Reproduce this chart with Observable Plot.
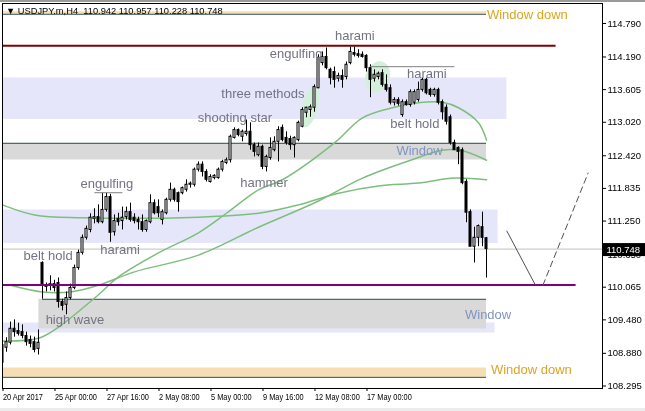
<!DOCTYPE html>
<html><head><meta charset="utf-8">
<script src="https://cdn.jsdelivr.net/npm/d3@7"></script>
<script src="https://cdn.jsdelivr.net/npm/@observablehq/plot@0.6"></script>
<style>body{margin:0;background:#fff;} svg{display:block}</style>
</head><body><div id="chart"></div>
<script>
// ---- data (USDJPY.m, H4) ----
const opens = [
109.03,108.98,109.07,109.32,109.28,109.26,109.19,109.12,109.08,108.96,
110.50,110.07,110.09,110.12,110.14,109.80,109.75,109.87,110.05,110.41,
110.68,110.95,111.09,111.29,111.32,111.23,111.45,111.68,111.05,111.29,
111.25,111.32,111.41,111.31,111.27,111.23,111.09,111.23,111.57,111.50,
111.27,111.39,111.63,111.81,111.75,111.75,111.81,111.90,111.90,112.17,
112.26,112.13,111.95,112.02,112.02,112.17,112.29,112.34,112.74,112.88,
112.76,112.81,112.85,112.61,112.43,112.58,112.22,112.38,112.52,112.67,
112.92,112.74,112.72,112.61,112.70,112.94,113.19,113.24,113.28,113.63,
114.08,114.19,113.96,113.92,113.80,113.85,113.83,114.08,114.26,114.24,
114.23,114.21,113.99,113.80,113.83,113.90,113.69,113.63,113.37,113.42,
113.15,113.38,113.33,113.37,113.42,113.60,113.78,113.60,113.51,113.60,
113.38,113.28,113.11,112.65,112.56,112.52,111.95,111.41,110.79,110.95,
111.14,110.942];
const highs = [
109.12,109.16,109.44,109.48,109.42,109.39,109.26,109.19,109.17,109.30,
110.52,110.14,110.27,110.19,110.23,109.85,109.98,110.12,110.46,110.73,
111.00,111.16,111.38,111.47,111.54,111.75,111.75,111.73,111.36,111.39,
111.50,111.50,111.57,111.38,111.32,111.36,111.27,111.72,111.63,111.63,
111.45,111.66,111.93,111.84,111.77,111.86,111.99,111.95,112.20,112.31,
112.31,112.17,112.08,112.08,112.20,112.34,112.38,112.79,112.92,112.90,
112.88,113.06,113.01,112.65,112.65,112.61,112.43,112.74,112.76,112.94,
112.97,112.85,112.77,112.76,113.04,113.28,113.29,113.33,113.69,114.23,
114.28,114.35,113.99,114.01,113.90,113.96,114.10,114.37,114.37,114.32,
114.28,114.23,114.05,113.96,113.92,113.96,113.87,113.69,113.46,113.46,
113.42,113.42,113.60,113.60,113.74,113.81,113.81,113.63,113.63,113.63,
113.42,113.33,113.15,112.70,112.58,112.56,111.99,111.45,111.14,111.18,
111.41,110.957];
const lows = [
108.65,108.90,109.03,109.17,109.19,109.14,109.01,108.98,108.89,108.85,
109.85,109.98,110.00,109.98,109.69,109.64,109.57,109.84,110.02,110.37,
110.64,110.91,111.04,111.20,111.20,111.20,111.41,110.87,110.98,111.16,
111.09,111.27,111.23,111.20,111.09,111.05,111.05,111.20,111.36,111.31,
111.18,111.36,111.59,111.59,111.41,111.72,111.77,111.84,111.86,112.13,
112.04,111.95,111.93,111.99,112.00,112.13,112.26,112.29,112.72,112.76,
112.67,112.77,112.52,112.40,112.40,112.17,112.13,112.34,112.49,112.31,
112.67,112.61,112.52,112.38,112.67,112.92,113.10,113.11,113.20,113.62,
114.03,113.96,113.69,113.63,113.74,113.63,113.78,114.05,114.19,114.17,
114.17,113.92,113.46,113.74,113.78,113.65,113.56,113.33,113.31,113.31,
113.11,113.31,113.29,113.33,113.38,113.56,113.51,113.47,113.47,113.33,
113.06,112.97,112.61,112.52,112.26,111.90,111.22,110.79,110.50,110.79,
110.79,110.228];
const closes = [
108.71,109.08,109.32,109.26,109.23,109.19,109.08,109.05,108.94,109.07,
110.10,110.10,110.12,110.05,109.80,109.73,109.87,110.05,110.41,110.68,
110.95,111.11,111.31,111.32,111.23,111.45,111.68,111.04,111.25,111.23,
111.31,111.41,111.27,111.25,111.23,111.09,111.25,111.57,111.39,111.39,
111.41,111.63,111.81,111.63,111.59,111.84,111.90,111.92,112.17,112.26,
112.13,111.99,112.04,112.06,112.17,112.31,112.34,112.76,112.88,112.79,
112.85,112.85,112.61,112.49,112.58,112.22,112.40,112.56,112.67,112.88,
112.70,112.65,112.61,112.74,113.01,113.24,113.28,113.29,113.65,114.17,
114.19,113.99,113.81,113.78,113.85,113.78,114.05,114.28,114.23,114.21,
114.19,113.99,113.78,113.87,113.89,113.69,113.60,113.37,113.42,113.35,
113.38,113.33,113.56,113.56,113.60,113.78,113.54,113.51,113.60,113.37,
113.20,113.03,112.65,112.52,112.49,111.93,111.40,110.79,110.95,111.16,
110.95,110.748];

// time axis (bar index of each label)
const timeTickBars = [0, 13, 26, 39, 52, 65, 78, 91];
const timeTickLabels = ["20 Apr 2017","25 Apr 00:00","27 Apr 16:00","2 May 08:00","5 May 00:00","9 May 16:00","12 May 08:00","17 May 00:00"];
const priceTicks = [114.790,114.190,113.605,113.020,112.420,111.835,111.250,110.650,110.065,109.480,108.880,108.295];

// moving averages (read at sample bars)
const maFastBars = [0,9,14,24,29,39,49,56,64,70,83,90,98,104,110,114,119,121];
const maFastVals = [109.10,109.15,109.35,109.93,110.25,110.68,111.04,111.39,111.81,111.99,112.65,113.10,113.29,113.37,113.38,113.28,113.01,112.70];
const maMidBars = [2,10,17,24,33,49,64,79,90,102,110,115,121];
const maMidVals = [110.10,109.98,109.98,110.10,110.34,110.64,111.14,111.61,112.02,112.34,112.52,112.51,112.34];
const maSlowBars = [0,8,20,49,64,74,84,94,104,113,121];
const maSlowVals = [111.54,111.36,111.31,111.32,111.39,111.54,111.75,111.88,111.93,112.02,111.99];

// drawn objects
const zones = [
  {x1:0, x2:121, y1:114.955, y2:115.000, fill:"#F5DEB3"},
  {x1:0, x2:126.1, y1:113.070, y2:113.813, fill:"#E6E6FA"},
  {x1:0, x2:121, y1:112.344, y2:112.643, fill:"#D9D9D9"},
  {x1:0, x2:123.9, y1:110.848, y2:111.448, fill:"#E6E6FA"},
  {x1:0, x2:123.1, y1:109.244, y2:109.424, fill:"#E6E6FA"},
  {x1:0, x2:121, y1:108.450, y2:108.617, fill:"#F5DEB3"}
];
const grayWindowLow = [{x1:9.1, x2:121, y1:109.316, y2:109.848}];
const zoneEdges = [
  {x1:0, x2:121, y:114.955}, {x1:0, x2:121, y:112.643},
  {x1:10, x2:121, y:109.848}, {x1:0, x2:121, y:108.450}
];
const levels = [
  {x1:0, x2:138.4, y:114.392, stroke:"#800000", w:2},
  {x1:0, x2:143.4, y:110.104, stroke:"#800080", w:2}
];
const lastPrice = 110.748;
const grayMarks = [{x1:23.1, x2:30.1, y:111.758}, {x1:91.9, x2:113.1, y:114.016}];
const projDown = [{i:126.1, p:111.07}, {i:133.1, p:110.12}];
const projUp = [{i:135.1, p:110.10}, {i:146.4, p:112.11}];
const ellipses = [
  {ci:76.95, cp:113.285, ri:2.0, rp:0.376, rot:15},
  {ci:93.9, cp:113.822, ri:3.0, rp:0.287, rot:20}
];
const patternLabels = [
  {i:88.1, p:114.566, t:"harami"},
  {i:73.4, p:114.243, t:"engulfing"},
  {i:106.1, p:113.885, t:"harami"},
  {i:65.1, p:113.527, t:"three methods"},
  {i:58.1, p:113.097, t:"shooting star"},
  {i:103.1, p:112.989, t:"belt hold"},
  {i:65.4, p:111.932, t:"hammer"},
  {i:26.1, p:111.914, t:"engulfing"},
  {i:29.4, p:110.732, t:"harami"},
  {i:11.4, p:110.624, t:"belt hold"},
  {i:18.1, p:109.477, t:"high wave"}
];
const windowLabels = [
  {i:104.25, p:112.505, t:"Window", a:"middle"},
  {i:121.4, p:109.567, t:"Window", a:"start"}
];
const windowDownLabels = [
  {i:121.1, p:114.942, t:"Window down"},
  {i:122.1, p:108.581, t:"Window down"}
];

// ---- build ----
const candles = opens.map((o, i) => ({i, o, h: highs[i], l: lows[i], c: closes[i]}));
const up = candles.filter(d => d.c >= d.o), down = candles.filter(d => d.c < d.o);
const pts = (bars, vals) => bars.map((b, k) => ({i: b, v: vals[k]}));
const labelMap = new Map(timeTickBars.map((b, k) => [b, timeTickLabels[k]]));

function ellipseMark(index, scales) {
  const g = d3.create("svg:g");
  for (const e of ellipses) {
    const cx = scales.x(e.ci), cy = scales.y(e.cp);
    const rx = Math.abs(scales.x(e.ci + e.ri) - cx), ry = Math.abs(scales.y(e.cp + e.rp) - cy);
    g.append("ellipse").attr("cx", cx).attr("cy", cy).attr("rx", rx).attr("ry", ry)
      .attr("transform", `rotate(${e.rot} ${cx} ${cy})`).attr("fill", "#D2F0DA");
  }
  return g.node();
}

const font = "Liberation Sans, Arial, sans-serif";
const plot = Plot.plot({
  width: 645, height: 411,
  marginLeft: 2, marginRight: 43, marginTop: 3, marginBottom: 23,
  x: {domain: [0, 150], axis: null},
  y: {domain: [108.25, 115.148], axis: null},
  style: {fontFamily: font, fontSize: "10px", color: "black", background: "white", overflow: "visible"},
  marks: [
    Plot.rect(zones, {x1: "x1", x2: "x2", y1: "y1", y2: "y2", fill: "fill", clip: true}),
    Plot.rect(grayWindowLow, {x1: "x1", x2: "x2", y1: "y1", y2: "y2", fill: "#D9D9D9", mixBlendMode: "multiply", clip: true}),
    Plot.ruleY(zoneEdges, {x1: "x1", x2: "x2", y: "y", stroke: "#2F4F4F", clip: true}),
    Plot.ruleY([lastPrice], {x1: 0, x2: 150, stroke: "#C0C0C0"}),
    ellipseMark,
    Plot.line(pts(maSlowBars, maSlowVals), {x: "i", y: "v", stroke: "#7DBE7D", curve: "catmull-rom", clip: true}),
    Plot.line(pts(maMidBars, maMidVals), {x: "i", y: "v", stroke: "#7DBE7D", curve: "catmull-rom", clip: true}),
    Plot.line(pts(maFastBars, maFastVals), {x: "i", y: "v", stroke: "#7DBE7D", curve: "catmull-rom", clip: true}),
    Plot.ruleX(candles, {x: "i", y1: "l", y2: "h", stroke: "black", clip: true}),
    Plot.rect(up, {x1: d => d.i - 0.25, x2: d => d.i + 0.25, y1: "o", y2: "c", fill: "white", stroke: "black", clip: true}),
    Plot.rect(down, {x1: d => d.i - 0.25, x2: d => d.i + 0.25, y1: "o", y2: "c", fill: "black", stroke: "black", clip: true}),
    Plot.ruleY(levels, {x1: "x1", x2: "x2", y: "y", stroke: "stroke", strokeWidth: "w", clip: true}),
    Plot.ruleY(grayMarks, {x1: "x1", x2: "x2", y: "y", stroke: "#808080", clip: true}),
    Plot.line(projDown, {x: "i", y: "p", stroke: "#505050", strokeWidth: 1, clip: true}),
    Plot.line(projUp, {x: "i", y: "p", stroke: "#505050", strokeWidth: 1, strokeDasharray: "6,4", clip: true}),
    Plot.text(patternLabels, {x: "i", y: "p", text: "t", fill: "#737384", fontSize: 13, fontFamily: font}),
    Plot.text(windowLabels, {x: "i", y: "p", text: "t", textAnchor: "a", fill: "#8094BE", fontSize: 13, fontFamily: font}),
    Plot.text(windowDownLabels, {x: "i", y: "p", text: "t", textAnchor: "start", fill: "#DAA520", fontSize: 13, fontFamily: font}),
    Plot.frame({stroke: "black"}),
    Plot.axisY({anchor: "right", ticks: priceTicks, tickFormat: d3.format(".3f"), tickSize: 3, tickPadding: 2, fontSize: 9.5}),
    Plot.axisX({anchor: "bottom", ticks: timeTickBars, tickFormat: d => labelMap.get(d), tickSize: 3, tickPadding: 2, textAnchor: "start", dx: 0.5, fontSize: 8.6})
  ]
});

document.getElementById("chart").append(plot);
const svg = d3.select(plot);
svg.selectAll('g[aria-label="x-axis tick label"] text').each(function () {
  const w = this.getComputedTextLength();
  this.setAttribute("textLength", (w * 0.86).toFixed(1));
  this.setAttribute("lengthAdjust", "spacingAndGlyphs");
});
// window chrome
svg.append("rect").attr("x", 0).attr("y", 0).attr("width", 645).attr("height", 2).attr("fill", "#9A9A9A");
svg.append("rect").attr("x", 0).attr("y", 408).attr("width", 645).attr("height", 3).attr("fill", "#ECECEC");
// title
const f3 = d3.format(".3f");
svg.append("text").attr("x", 6).attr("y", 14).attr("text-anchor", "start").attr("font-size", 9.3)
  .style("white-space", "pre").attr("fill", "black")
  .text(`▼ USDJPY.m,H4  ${f3(opens.at(-1))} ${f3(highs.at(-1))} ${f3(lows.at(-1))} ${f3(closes.at(-1))}`);
// current price box
const yc = plot.scale("y").apply(lastPrice) + 0.5;
svg.append("rect").attr("x", 603).attr("y", yc - 6).attr("width", 42).attr("height", 13).attr("fill", "black");
svg.append("text").attr("x", 606.5).attr("y", yc + 0.5).attr("dy", "0.35em").attr("text-anchor", "start")
  .attr("font-size", 9.5).attr("fill", "white").text(f3(lastPrice));
</script>
</body></html>
